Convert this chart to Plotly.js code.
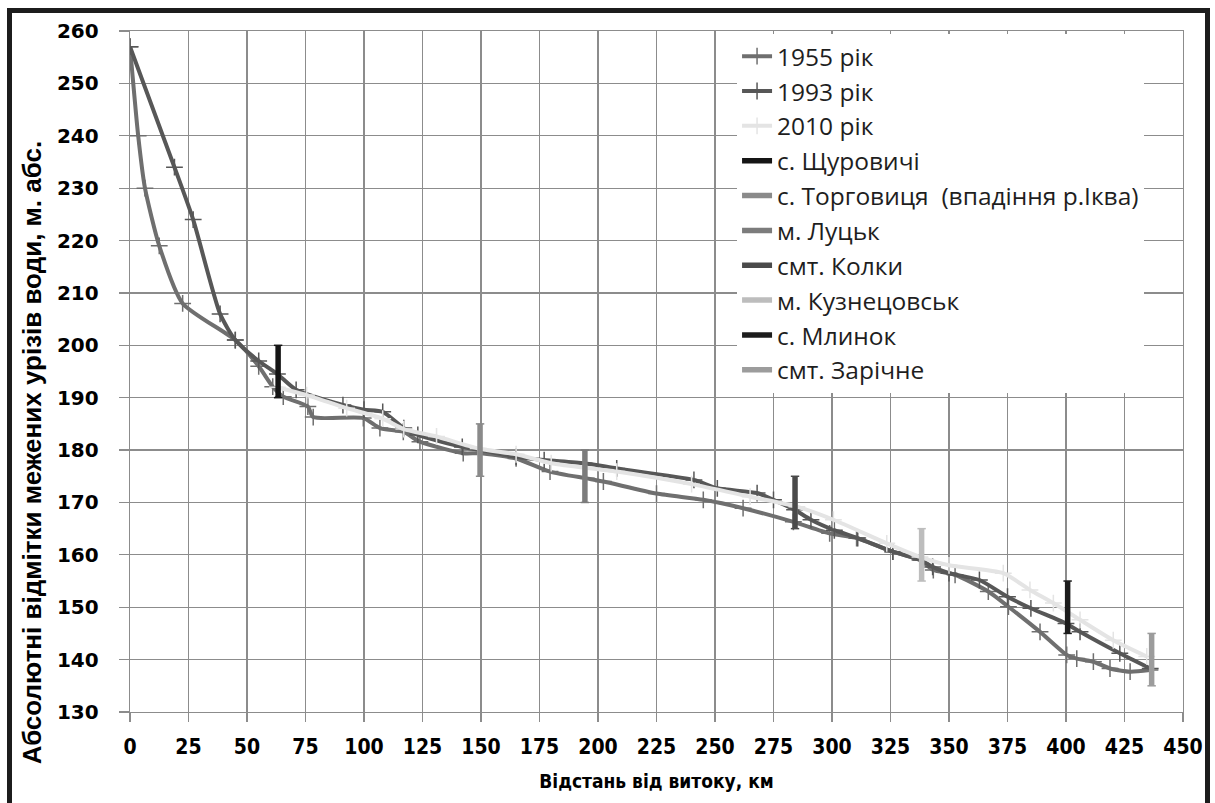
<!DOCTYPE html>
<html>
<head>
<meta charset="utf-8">
<script src="https://cdn.plot.ly/plotly-3.0.1.min.js"></script>
<style>
  html, body { margin: 0; padding: 0; background: #fff; }
  #wrap { position: relative; width: 1215px; height: 803px; overflow: hidden; }
  #chart { position: absolute; left: 0; top: 0; width: 1215px; height: 803px; }
  #frame { position: absolute; left: 7px; top: 8px; width: 1193px; height: 820px;
           border-left: 5px solid #1c1c1c; border-top: 5px solid #1c1c1c; border-right: 5px solid #1c1c1c;
           pointer-events: none; }
</style>
</head>
<body>
<div id="wrap"><div id="chart"></div><div id="frame"></div></div>
<script>
// ---- data ----
const km1955 = [0, 3.5, 6.4, 12.5, 22.5, 45, 55, 61, 65.5, 76, 78.3, 99.7, 106.8, 116.8, 123.9, 142.4, 149.6, 165, 179.5, 195, 202.3, 225, 245, 262, 283.5, 299, 310.5, 326, 337.6, 343.3, 352.6, 366.8, 375.4, 388.9, 400.3, 404.6, 411.7, 418.8, 427.4, 435.9];
const lvl1955 = [257, 240, 230, 219, 208, 201, 196, 192.1, 190.2, 188.3, 186.3, 186.1, 184.2, 183.5, 181.6, 179.4, 179.4, 178.4, 175.9, 174.6, 174.0, 171.7, 170.5, 168.9, 166.3, 164.1, 163.2, 160.6, 159, 157.1, 156.2, 153.0, 150.1, 145.3, 140.9, 140.2, 139.6, 138.3, 137.7, 138.0];

const km1993 = [0, 19, 27, 38.5, 45, 55, 63, 71, 91, 100, 108, 117, 123, 142, 150, 165, 177, 194, 208, 241, 251, 268, 275, 284, 291, 301, 311, 326, 338, 343, 350, 363, 375, 385, 400, 406, 423, 436];
const lvl1993 = [257, 234, 224, 206, 201, 197, 194.5, 191.5, 188.6, 187.7, 187.3, 184.2, 182.9, 180.6, 180, 178.7, 178.1, 177.5, 176.5, 174.3, 172.7, 171.8, 170.5, 168.6, 166.7, 164.7, 163.2, 160.6, 159, 157.7, 156.5, 155.2, 152, 149.8, 146.9, 145.3, 141.2, 138.3];

const km2010 = [63, 75.5, 92.6, 108, 117, 131, 148.8, 165, 180, 208, 240, 265, 285, 300.6, 323.4, 337.6, 350, 373.2, 384.6, 394.6, 406, 420.2, 434.5];
const lvl2010 = [192, 190.5, 188, 186, 184, 182.6, 180.3, 179.2, 177.5, 175.9, 173.5, 171.1, 169.2, 166.7, 162.2, 159.6, 158, 156.5, 153.3, 150.8, 147.6, 143.7, 140.6];

const townNames = ["с. Щуровичі", "с. Торговиця\u00a0 (впадіння р.Іква)", "м. Луцьк", "смт. Колки", "м. Кузнецовськ", "с. Млинок", "смт. Зарічне"];
const townKm    = [63.3, 149.6, 194.4, 284.2, 338.3, 400.7, 436.6];
const townLow   = [190, 175, 170, 165, 155, 145, 135];
const townHigh  = [200, 185, 180, 175, 165, 155, 145];
const townColors = ["#151515", "#8a8a8a", "#7c7c7c", "#4a4a4a", "#bdbdbd", "#1c1c1c", "#9c9c9c"];

const xTicks = [0, 25, 50, 75, 100, 125, 150, 175, 200, 225, 250, 275, 300, 325, 350, 375, 400, 425, 450];
const yTicks = [130, 140, 150, 160, 170, 180, 190, 200, 210, 220, 230, 240, 250, 260];

// ---- traces ----
function yearTrace(name, x, y, color) {
  return {
    type: 'scatter', mode: 'lines+markers', name: name, x: x, y: y,
    line: { color: color, width: 4, shape: 'spline', smoothing: 0.6 },
    marker: { symbol: 'cross-thin', size: 12, color: color, line: { color: color, width: 1.5 } }
  };
}
const traces = [
  yearTrace('1955 рік', km1955, lvl1955, '#6f6f6f'),
  yearTrace('1993 рік', km1993, lvl1993, '#575757'),
  yearTrace('2010 рік', km2010, lvl2010, '#e4e4e4')
];
townNames.forEach((n, i) => {
  traces.push({
    type: 'scatter', mode: 'lines+markers', name: n,
    x: [townKm[i], townKm[i]], y: [townLow[i], townHigh[i]],
    line: { color: townColors[i], width: 5.5 },
    marker: { symbol: 'line-ew', size: 6, color: townColors[i], line: { color: townColors[i], width: 1.5 } }
  });
});

const gridC = '#8c8c8c';
const narrow = '"Liberation Sans Narrow", "DejaVu Sans Condensed", "Liberation Sans", sans-serif';

const layout = {
  width: 1215, height: 803,
  margin: { l: 130, r: 32, t: 31, b: 91 },
  paper_bgcolor: '#ffffff', plot_bgcolor: '#ffffff',
  showlegend: true,
  legend: {
    x: 0.5765, y: 0.996, xanchor: 'left', yanchor: 'top',
    bgcolor: '#ffffff', borderwidth: 0,
    font: { family: '"Open Sans", sans-serif', size: 24.5, color: '#1e1e1e' },
    itemwidth: 30
  },
  xaxis: {
    range: [0, 450], tickmode: 'array', tickvals: xTicks, ticktext: xTicks.map(String),
    showgrid: true, gridcolor: gridC, gridwidth: 1.3, zeroline: false,
    showline: true, linecolor: gridC, linewidth: 1.3, mirror: true,
    ticks: 'outside', ticklen: 9, tickcolor: gridC, tickwidth: 1.3,
    ticklabelstandoff: 6,
    tickfont: { family: narrow, size: 21, color: '#000', weight: 'bold' },
    title: { text: 'Відстань від витоку, км', standoff: 17,
             font: { family: narrow, size: 19, color: '#000', weight: 'bold' } }
  },
  yaxis: {
    range: [130, 260], tickmode: 'array', tickvals: yTicks, ticktext: yTicks.map(String),
    showgrid: true, gridcolor: gridC, gridwidth: 1.3, zeroline: false,
    showline: true, linecolor: gridC, linewidth: 1.3, mirror: true,
    ticks: 'outside', ticklen: 10, tickcolor: gridC, tickwidth: 1.3,
    ticklabelstandoff: 16,
    tickfont: { family: '"DejaVu Sans", sans-serif', size: 20, color: '#000', weight: 'bold' }
  },
  annotations: [{
    text: 'Абсолютні відмітки межених урізів води, м. абс.',
    xref: 'paper', yref: 'paper', x: -0.093, y: 0.38,
    xanchor: 'center', yanchor: 'middle', textangle: -90, showarrow: false,
    font: { family: '"Liberation Sans", sans-serif', size: 26, color: '#000', weight: 'bold' }
  }]
};

Plotly.newPlot('chart', traces, layout, { displayModeBar: false, staticPlot: true });
</script>
</body>
</html>
